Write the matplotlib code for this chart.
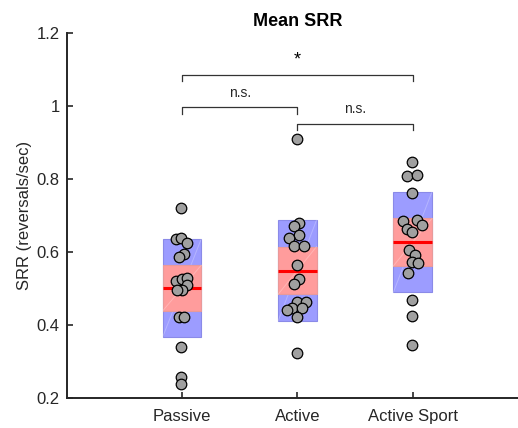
import matplotlib
matplotlib.use("Agg")
import matplotlib.pyplot as plt
import numpy as np

plt.rcParams["font.family"] = ["Liberation Sans", "DejaVu Sans"]

# Groups and per-subject SRR values
groups = ["Passive", "Active", "Active Sport"]

passive = [0.721, 0.636, 0.638, 0.624, 0.594, 0.587, 0.521, 0.525, 0.528,
           0.510, 0.496, 0.496, 0.423, 0.421, 0.341, 0.257, 0.238]
active = [0.909, 0.680, 0.671, 0.647, 0.638, 0.616, 0.616, 0.564, 0.525,
          0.512, 0.464, 0.464, 0.446, 0.441, 0.446, 0.421, 0.322]
active_sport = [0.847, 0.808, 0.811, 0.761, 0.686, 0.688, 0.674, 0.662, 0.654,
                0.605, 0.592, 0.573, 0.571, 0.542, 0.468, 0.425, 0.344]

# Horizontal jitter of each point within its group
jitter_passive = [-0.007, -0.050, -0.007, 0.042, 0.016, -0.028, -0.050, -0.002, 0.042,
                  0.045, -0.002, -0.048, -0.028, 0.016, -0.007, -0.007, -0.007]
jitter_active = [-0.003, 0.017, -0.026, 0.017, -0.070, -0.026, 0.061, -0.003, 0.017,
                 -0.026, -0.003, 0.076, -0.046, -0.090, 0.037, -0.003, -0.003]
jitter_sport = [-0.005, -0.049, 0.038, -0.005, -0.087, 0.035, 0.078, -0.049, -0.005,
                -0.029, 0.023, -0.005, 0.043, -0.043, -0.005, -0.005, -0.005]

# Summary statistics: mean, 95% CI band and SD band
means = [0.501, 0.549, 0.628]
ci_low = [0.439, 0.484, 0.562]
ci_high = [0.564, 0.615, 0.692]
sd_low = [0.368, 0.411, 0.490]
sd_high = [0.636, 0.688, 0.765]

# Pairwise comparisons: (group a, group b, bracket height, label)
comparisons = [(1, 3, 1.085, "*"), (1, 2, 0.996, "n.s."), (2, 3, 0.951, "n.s.")]

values = [passive, active, active_sport]
jitters = [jitter_passive, jitter_active, jitter_sport]

fig = plt.figure(figsize=(5.18, 4.28), dpi=100)
ax = fig.add_axes([0.1288, 0.0701, 0.8905, 0.8528])

axis_col = "#262626"
half_w = 0.167
blue = "#9c9cff"
red = "#ff9c9c"

for i in range(3):
    x = i + 1
    # SD band
    ax.add_patch(plt.Rectangle((x - half_w, sd_low[i]), 2 * half_w, sd_high[i] - sd_low[i],
                               facecolor=blue, edgecolor="#8a8ae8", linewidth=0.8, zorder=1))
    ax.plot([x - half_w, x + half_w], [sd_low[i], sd_high[i]], color="white",
            alpha=0.25, linewidth=0.7, zorder=1.1)
    # 95% CI band
    ax.add_patch(plt.Rectangle((x - half_w, ci_low[i]), 2 * half_w, ci_high[i] - ci_low[i],
                               facecolor=red, edgecolor="#e89a9a", linewidth=0.8, zorder=2))
    ax.plot([x - half_w, x + half_w], [ci_low[i], ci_high[i]], color="white",
            alpha=0.25, linewidth=0.7, zorder=2.1)
    # Mean
    ax.plot([x - half_w, x + half_w], [means[i], means[i]], color="#ff0000",
            linewidth=2.2, zorder=3, solid_capstyle="butt")
    # Individual subjects
    xs = x + np.array(jitters[i])
    ax.plot(xs, values[i], "o", markersize=7.6, markerfacecolor="#a0a0a0",
            markeredgecolor="black", markeredgewidth=0.9, linestyle="none", zorder=4)

# Significance brackets
drop = 0.017
for a, b, h, lab in comparisons:
    ax.plot([a, a, b, b], [h - drop, h, h, h - drop], color="#333333", linewidth=0.9,
            zorder=5, clip_on=False)
    if lab == "*":
        ax.text((a + b) / 2, h + 0.04, lab, ha="center", va="center", fontsize=13,
                color="black")
    else:
        ax.text((a + b) / 2, h + 0.04, lab, ha="center", va="center", fontsize=10,
                color="#262626")

ax.set_xlim(0, 4)
ax.set_ylim(0.2, 1.2)
ax.set_xticks([1, 2, 3])
ax.set_xticklabels(groups)
ax.set_yticks([0.2, 0.4, 0.6, 0.8, 1.0, 1.2])
ax.set_yticklabels(["0.2", "0.4", "0.6", "0.8", "1", "1.2"])
ax.tick_params(direction="in", length=4, width=1.2, colors=axis_col, labelsize=12,
               pad=5)
ax.tick_params(axis="x", pad=8)
for s in ["top", "right"]:
    ax.spines[s].set_visible(False)
for s in ["left", "bottom"]:
    ax.spines[s].set_color(axis_col)
    ax.spines[s].set_linewidth(1.4)

ax.set_ylabel("SRR (reversals/sec)", fontsize=12, color=axis_col, labelpad=3)
ax.set_title("Mean SRR", fontsize=13, fontweight="bold", color="black", pad=5)

fig.savefig("out.png", dpi=100)
